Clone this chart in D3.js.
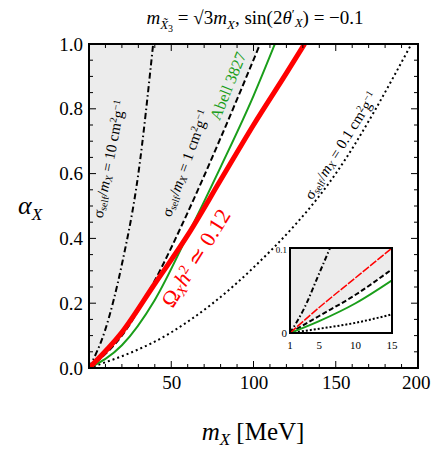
<!DOCTYPE html><html><head><meta charset="utf-8"><script src="https://cdn.jsdelivr.net/npm/d3@7"></script>
<style>body{margin:0;background:#fff}text{font-family:"Liberation Serif","DejaVu Serif",serif}</style></head><body><svg id="c" width="431" height="457"></svg><script>
const xTicks=[50,100,150,200], yTicks=[0,0.2,0.4,0.6,0.8,1.0];
const red=[[0,0],[20,0.11],[40,0.26],[60,0.41],[80,0.58],[100,0.75],[120,0.91],[131,1.0]];
const green=[[0,0],[20,0.07],[40,0.21],[60,0.41],[80,0.62],[100,0.84],[113,1.0]];
const dash1=[[0,0],[20,0.1],[40,0.27],[60,0.48],[80,0.71],[104,1.0]];
const dash10=[[0,0],[10,0.12],[20,0.32],[30,0.6],[39,1.0]];
const dot01=[[0,0],[50,0.11],[100,0.31],[150,0.6],[196,1.0]];
const inRed=[[1,0],[5,0.03],[10,0.065],[15,0.1]];
const inDash1=[[1,0],[5,0.02],[10,0.045],[15,0.075]];
const inGreen=[[1,0],[5,0.014],[10,0.035],[15,0.062]];
const inDash10=[[1,0],[3,0.03],[5,0.07],[6.5,0.1]];
const inDot=[[1,0],[5,0.005],[10,0.012],[15,0.022]];
const svg=d3.select("#c");
const x=d3.scaleLinear([0,200],[89,418]), y=d3.scaleLinear([0,1],[368,44]);
svg.append("clipPath").attr("id","cp").append("rect").attr("x",89).attr("y",44).attr("width",329).attr("height",324);
const g=svg.append("g").attr("clip-path","url(#cp)");
const ln=(xs,ys)=>d3.line().x(d=>xs(d[0])).y(d=>ys(d[1])).curve(d3.curveMonotoneX);
g.append("path").attr("d",ln(x,y)(dash1)+"L"+x(104)+","+y(1)+"L"+x(0)+","+y(1)+"Z").attr("fill","#ececec");
function curves(gg,xs,ys,sets){sets.forEach(([d,c,w,da])=>gg.append("path").attr("d",ln(xs,ys)(d)).attr("fill","none").attr("stroke",c).attr("stroke-width",w).attr("stroke-dasharray",da));}
curves(g,x,y,[[dash10,"#000",2,"6,3,1.5,3"],[dash1,"#000",2,"6,3"],[dot01,"#000",2,"2,3"],[green,"#1a9e1a",2,null],[red,"#f00",5,null]]);
svg.append("rect").attr("x",89).attr("y",44).attr("width",329).attr("height",324).attr("fill","none").attr("stroke","#000").attr("stroke-width",2);
const xa=svg.append("g").attr("transform","translate(0,368)").call(d3.axisBottom(x).tickValues(xTicks).tickSize(0).tickPadding(8));
const ya=svg.append("g").attr("transform","translate(89,0)").call(d3.axisLeft(y).tickValues(yTicks).tickFormat(d3.format(".1f")).tickSize(0).tickPadding(6));
[xa,ya].forEach(a=>{a.select(".domain").remove();a.selectAll("text").attr("font-size",19).attr("font-family","Liberation Serif");});
xa.selectAll("text").filter(d=>d==200).attr("text-anchor","end").attr("dx",12);
d3.range(10,200,10).forEach(v=>{const L=v%50==0?7:4;[368,44].forEach((yy,i)=>svg.append("line").attr("x1",x(v)).attr("x2",x(v)).attr("y1",yy).attr("y2",i?yy+L:yy-L).attr("stroke","#000"));});
d3.range(0.05,1,0.05).forEach(v=>{const L=Math.abs(v*5-Math.round(v*5))<1e-6?7:4;[89,418].forEach((xx,i)=>svg.append("line").attr("y1",y(v)).attr("y2",y(v)).attr("x1",xx).attr("x2",i?xx-L:xx+L).attr("stroke","#000"));});
function lab(t,cx,cy,rot,fs,col){svg.append("text").attr("transform",`translate(${cx},${cy}) rotate(${rot})`).attr("text-anchor","middle").attr("font-size",fs).attr("fill",col).html(t);}
const sig=v=>'σ<tspan font-size="10" dy="2">self</tspan><tspan dy="-2">/</tspan><tspan font-style="italic">m</tspan><tspan font-size="10" dy="2" font-style="italic">X</tspan><tspan dy="-2"> = '+v+' cm</tspan><tspan font-size="10" dy="-5">2</tspan><tspan dy="5">g</tspan><tspan font-size="10" dy="-5">−1</tspan>';
lab(sig(10),114,160,-79,15,"#000");
lab(sig(1),190,165,-70,15,"#000");
lab(sig(0.1),345,148,-58,15,"#000");
lab('Abell 3827',233,88,-68,16,"#1a9e1a");
lab('Ω<tspan font-size="14" dy="3" font-style="italic">X</tspan><tspan dy="-3" font-style="italic">h</tspan><tspan font-size="14" dy="-7">2</tspan><tspan dy="7"> ≃ 0.12</tspan>',202,262,-58,22,"#f00");
svg.append("text").attr("x",253).attr("y",440).attr("text-anchor","middle").attr("font-size",25).html('<tspan font-style="italic">m</tspan><tspan font-size="17" dy="5" font-style="italic">X</tspan><tspan dy="-5"> [MeV]</tspan>');
svg.append("text").attr("x",18).attr("y",214).attr("font-size",26).html('<tspan font-style="italic">α</tspan><tspan font-size="17" dy="6" font-style="italic">X</tspan>');
svg.append("text").attr("x",255).attr("y",24).attr("text-anchor","middle").attr("font-size",19).html('<tspan font-style="italic">m</tspan><tspan font-size="13" dy="5" font-style="italic">X̃</tspan><tspan font-size="10" dy="3">3</tspan><tspan dy="-8"> = √3</tspan><tspan font-style="italic">m</tspan><tspan font-size="13" dy="5" font-style="italic">X</tspan><tspan dy="-5">, sin(2</tspan><tspan font-style="italic">θ</tspan><tspan font-size="13" dy="-6">′</tspan><tspan font-size="13" dy="9" font-style="italic">X</tspan><tspan dy="-3">) = −0.1</tspan>');
const ix=d3.scaleLinear([1,15],[290,392]), iy=d3.scaleLinear([0,0.1],[333,248]);
svg.append("clipPath").attr("id","ic").append("rect").attr("x",290).attr("y",248).attr("width",102).attr("height",85);
const ig=svg.append("g").attr("clip-path","url(#ic)");
ig.append("rect").attr("x",290).attr("y",248).attr("width",102).attr("height",85).attr("fill","#fff");
ig.append("path").attr("d",ln(ix,iy)(inDash1)+"L392,248L290,248Z").attr("fill","#ececec");
curves(ig,ix,iy,[[inDash10,"#000",2,"5,2.5,1.5,2.5"],[inDash1,"#000",2,"5,2.5"],[inDot,"#000",2,"2,2"],[inGreen,"#1a9e1a",2,null],[inRed,"#f00",1.5,"8,1.5"]]);
svg.append("rect").attr("x",290).attr("y",248).attr("width",102).attr("height",85).attr("fill","none").attr("stroke","#000").attr("stroke-width",2);
[1,5,10,15].forEach(v=>svg.append("text").attr("x",ix(v)).attr("y",349).attr("text-anchor","middle").attr("font-size",11).text(v));
svg.append("text").attr("x",287).attr("y",337).attr("text-anchor","end").attr("font-size",11).text("0");
svg.append("text").attr("x",287).attr("y",253).attr("text-anchor","end").attr("font-size",9).text("0.1");
</script></body></html>
